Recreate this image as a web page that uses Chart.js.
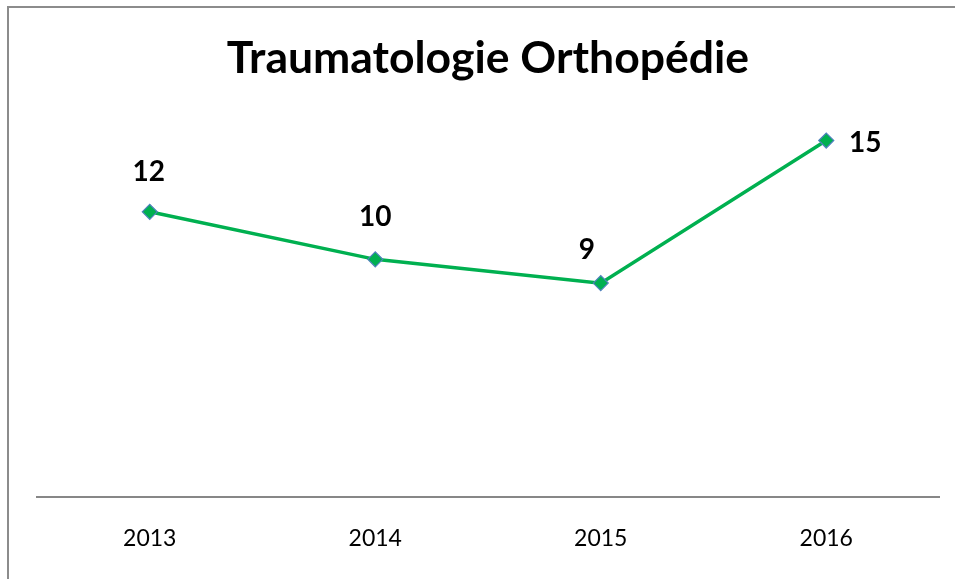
<!DOCTYPE html>
<html>
<head>
<meta charset="utf-8">
<script src="https://cdn.jsdelivr.net/npm/chart.js@4/dist/chart.umd.min.js"></script>
<style>
  html, body { margin: 0; padding: 0; background: #fff; }
  #wrap { position: relative; width: 955px; height: 579px; overflow: hidden; }
  #frame { position: absolute; left: 7px; top: 6px; width: 1000px; height: 700px;
           border-left: 2px solid #8c8c8c; border-top: 2px solid #8c8c8c; pointer-events: none; }
  canvas { position: absolute; left: 0; top: 0; }
</style>
</head>
<body>
<div id="wrap">
  <canvas id="c" width="955" height="579"></canvas>
  <div id="frame"></div>
</div>
<script>
const titleText = "Traumatologie Orthopédie";
const years = ["2013", "2014", "2015", "2016"];
const values = [12, 10, 9, 15];

const labelOffsets = [[-1, -40], [0, -42], [-14, -33], [39, 2]];

const dataLabels = {
  id: 'dataLabels',
  afterDatasetsDraw(chart) {
    const ctx = chart.ctx;
    const meta = chart.getDatasetMeta(0);
    ctx.save();
    ctx.font = 'bold 28px Lato';
    ctx.fillStyle = '#000';
    ctx.textAlign = 'center';
    ctx.textBaseline = 'middle';
    meta.data.forEach((pt, i) => {
      const o = labelOffsets[i];
      ctx.fillText(String(values[i]), pt.x + o[0], pt.y + o[1]);
    });
    ctx.restore();
  }
};

new Chart(document.getElementById('c'), {
  type: 'line',
  data: {
    labels: years,
    datasets: [{
      data: values,
      borderColor: '#00B050',
      borderWidth: 3.5,
      pointStyle: 'rectRot',
      pointRadius: 7.5,
      pointBackgroundColor: '#00B050',
      pointBorderColor: '#4F81BD',
      pointBorderWidth: 1.2,
      tension: 0
    }]
  },
  options: {
    responsive: false,
    animation: false,
    devicePixelRatio: 1,
    layout: { padding: { left: 37, right: 16, top: 0, bottom: 0 } },
    plugins: {
      legend: { display: false },
      tooltip: { enabled: false },
      title: {
        display: true,
        text: titleText,
        color: '#000',
        font: { family: 'Lato', size: 44.5, weight: 'bold', lineHeight: 1.2 },
        padding: { top: 31.5, bottom: 8.1 }
      }
    },
    scales: {
      x: {
        offset: true,
        grid: { display: false, drawTicks: false },
        border: { display: true, color: '#878787', width: 2 },
        ticks: { color: '#000', padding: 28, font: { family: 'Lato', size: 23 } },
        afterFit(scale) { scale.height = 82; }
      },
      y: {
        display: false,
        min: 0,
        max: 17
      }
    }
  },
  plugins: [dataLabels]
});
</script>
</body>
</html>
